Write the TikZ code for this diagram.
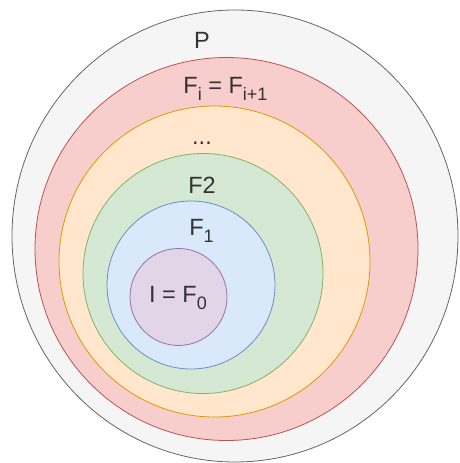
\documentclass[tikz,border=0pt]{standalone}
\usepackage{fontspec}
\setmainfont{Liberation Sans}
\usepackage{tikz}

\definecolor{pfill}{HTML}{F5F5F5}
\definecolor{pline}{HTML}{666666}
\definecolor{redfill}{HTML}{F8CECC}
\definecolor{redline}{HTML}{B85450}
\definecolor{orangefill}{HTML}{FFE6CC}
\definecolor{orangeline}{HTML}{D79B00}
\definecolor{greenfill}{HTML}{D5E8D4}
\definecolor{greenline}{HTML}{82B366}
\definecolor{bluefill}{HTML}{DAE8FC}
\definecolor{blueline}{HTML}{6C8EBF}
\definecolor{purplefill}{HTML}{E1D5E7}
\definecolor{purpleline}{HTML}{9673A6}
\definecolor{labeltext}{HTML}{333333}

\newcommand{\lowsub}[1]{\raisebox{-7pt}{\fontsize{18}{18}\selectfont #1}}

\begin{document}
\begin{tikzpicture}[x=1pt, y=-1pt,
    set/.style={line width=0.8pt},
    setlabel/.style={font=\fontsize{23.5}{27}\selectfont, text=labeltext, inner sep=0pt, anchor=base}]
    \useasboundingbox (0,0) rectangle (459,463);
    \coordinate (P) at (235, 236);
    \coordinate (Fi) at (226.5, 249);
    \coordinate (Fdots) at (214.5, 261.5);
    \coordinate (F2) at (203, 273.5);
    \coordinate (F1) at (191, 285);
    \coordinate (F0) at (178.5, 297);
    \filldraw[set, fill=pfill, draw=pline] (P) ellipse (223pt and 226pt);
    \filldraw[set, fill=redfill, draw=redline] (Fi) circle (191.5pt);
    \filldraw[set, fill=orangefill, draw=orangeline] (Fdots) circle (155.5pt);
    \filldraw[set, fill=greenfill, draw=greenline] (F2) circle (120pt);
    \filldraw[set, fill=bluefill, draw=blueline] (F1) circle (84pt);
    \filldraw[set, fill=purplefill, draw=purpleline] (F0) circle (48.5pt);
    \node[setlabel] (labelP) at (202, 48) {P};
    \node[setlabel] (labelFi) at (225.5, 93) {F\lowsub{i} = F\lowsub{i+1}};
    \node[setlabel] (labeldots) at (202, 144) {...};
    \node[setlabel] (labelF2) at (202, 193) {F2};
    \node[setlabel] (labelF1) at (201.5, 235) {F\lowsub{1}};
    \node[setlabel] (labelF0) at (178, 302) {I = F\lowsub{0}};
\end{tikzpicture}
\end{document}
